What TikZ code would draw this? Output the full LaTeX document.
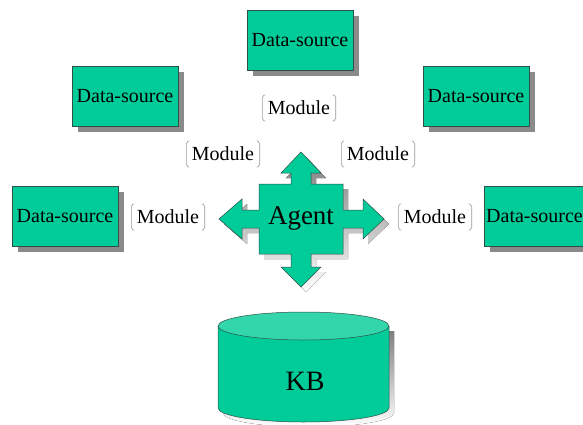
\documentclass[tikz,border=0pt]{standalone}
\usepackage{fontspec}
\setmainfont{Liberation Serif}
\usetikzlibrary{shadows}
\definecolor{teal1}{HTML}{00CC99}
\definecolor{teal2}{HTML}{33D6AA}
\definecolor{edge}{HTML}{2F4F47}
\definecolor{shade}{HTML}{8A8A8A}
\tikzset{
  dsbox/.style={draw=edge, line width=0.8pt, fill=teal1, minimum width=106pt, minimum height=60pt,
    inner sep=0pt, font=\fontsize{20}{22}\selectfont,
    drop shadow={shadow xshift=6pt, shadow yshift=-6pt, fill=shade, opacity=1}},
  module/.style={inner sep=0pt, minimum width=73pt, minimum height=26pt, font=\fontsize{20}{22}\selectfont},
  bracket/.style={draw=gray!80, line width=0.6pt},
  crossfill/.style={fill=teal1, draw=edge, line width=0.5pt}
}
\begin{document}
\begin{tikzpicture}[x=1pt,y=-1pt]
\clip (0,0) rectangle (583,425);
\fill[white] (0,0) rectangle (583,425);
% data sources
\node[dsbox] (d1) at (300,40) {Data-source};
\node[dsbox] (d2) at (125,96) {Data-source};
\node[dsbox] (d3) at (476,96) {Data-source};
\node[dsbox] (d4) at (65,216) {Data-source};
\node[dsbox] (d5) at (537,216) {Data-source\hspace*{5pt}};
% modules
\node[module] (m1) at (299,108) {Module};
\node[module] (m2) at (223,154) {Module};
\node[module] (m3) at (378,154) {Module};
\node[module] (m4) at (168,217) {Module};
\node[module] (m5) at (435,217) {Module};
\foreach \m in {m1,m2,m3,m4,m5}{
  \draw[bracket] ([xshift=3pt]\m.north west) -- ([xshift=1.5pt,yshift=-0.5pt]\m.north west)
     .. controls ([yshift=-1.5pt]\m.north west) .. ([yshift=-3pt]\m.north west)
     -- ([yshift=3pt]\m.south west)
     .. controls ([yshift=1.5pt]\m.south west) .. ([xshift=1.5pt,yshift=0.5pt]\m.south west)
     -- ([xshift=3pt]\m.south west);
  \draw[bracket] ([xshift=-3pt]\m.north east) -- ([xshift=-1.5pt,yshift=-0.5pt]\m.north east)
     .. controls ([yshift=-1.5pt]\m.north east) .. ([yshift=-3pt]\m.north east)
     -- ([yshift=3pt]\m.south east)
     .. controls ([yshift=1.5pt]\m.south east) .. ([xshift=-1.5pt,yshift=0.5pt]\m.south east)
     -- ([xshift=-3pt]\m.south east);
}
% agent cross
\def\crosspath{(301,152) -- (321,173) -- (311,173) -- (311,184) -- (343,184) -- (343,210) -- (363,210) -- (363,199) -- (384,219) -- (363,239) -- (363,228) -- (343,228) -- (343,254) -- (311,254) -- (311,267) -- (321,267) -- (301,287) -- (281,267) -- (291,267) -- (291,254) -- (259,254) -- (259,228) -- (242,228) -- (242,239) -- (219,219) -- (242,199) -- (242,210) -- (259,210) -- (259,184) -- (291,184) -- (291,173) -- (281,173) -- cycle}
\fill[shade, shift={(5,5)}] \crosspath;
\path[crossfill] \crosspath;
\node[font=\fontsize{27}{29}\selectfont] (agent) at (301,218) {Agent};
% KB cylinder
\fill[shade] (223,331) -- (223,413) arc[start angle=180, end angle=360, x radius=85.5pt, y radius=14pt] -- (394,331) -- cycle;
\filldraw[fill=teal1, draw=edge, line width=0.5pt] (218,326) -- (218,408) arc[start angle=180, end angle=360, x radius=85.5pt, y radius=14pt] -- (389,326) -- cycle;
\filldraw[fill=teal2, draw=edge, line width=0.5pt] (303.5,326) ellipse[x radius=85.5pt, y radius=14pt];
\node[font=\fontsize{28}{30}\selectfont] (kb) at (305,381) {KB};
\end{tikzpicture}
\end{document}
